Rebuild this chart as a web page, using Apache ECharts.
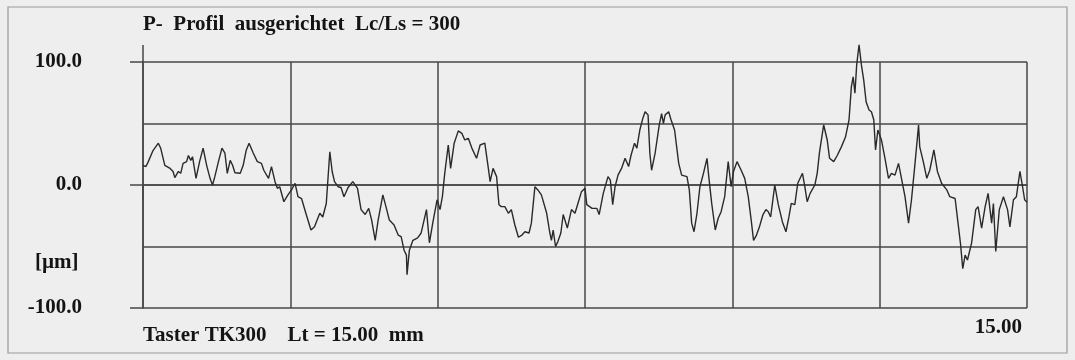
<!DOCTYPE html>
<html>
<head>
<meta charset="utf-8">
<script src="https://cdn.jsdelivr.net/npm/echarts@6/dist/echarts.min.js"></script>
<style>
  html, body { margin: 0; padding: 0; background: #eeeeee; }
  #chart { width: 1075px; height: 360px; }
</style>
</head>
<body>
<div id="chart"></div>
<script>
// Texts
const titleText = 'P-  Profil  ausgerichtet  Lc/Ls = 300';
const footerText = 'Taster TK300    Lt = 15.00  mm';
const unitText = '[µm]';

// Axis ticks
const yLabelValues = [-100, 0, 100];
const xLabelValues = [15];

// Profile: [position along trace in mm, height in µm]
const profilePoints = [
  [0.00,16],[0.05,15],[0.09,19],[0.17,28],[0.20,27],[0.26,34],[0.30,30],[0.37,16],[0.46,13.5],[0.51,11],
  [0.54,6],[0.60,11],[0.64,9.5],[0.68,17.6],[0.74,19],[0.77,24],[0.81,20],[0.84,23],[0.90,5.4],[0.96,19],
  [1.02,30],[1.08,16],[1.14,5],[1.18,0],[1.22,7],[1.28,19],[1.34,30],[1.39,26],[1.43,9.5],[1.48,20],
  [1.52,16],[1.56,10],[1.65,9.5],[1.70,16],[1.75,28],[1.80,34],[1.87,26],[1.94,19],[2.01,17.6],[2.05,12],
  [2.13,5.4],[2.18,15],[2.24,2.7],[2.28,-2.7],[2.32,-1.4],[2.39,-13.6],[2.46,-8],[2.52,-4],
  [2.58,1.4],[2.63,-9.5],[2.69,-11],[2.77,-24],[2.85,-36.6],[2.91,-34],[3.00,-23],[3.05,-26],[3.11,-15],[3.17,27],
  [3.21,11],[3.25,2.7],[3.31,-1.4],[3.36,-2],[3.41,-9.5],[3.48,-2],[3.56,2.7],[3.64,-2.7],[3.70,-20],[3.77,-24],
  [3.83,-19],[3.88,-28.5],[3.94,-45],[3.99,-28.5],[4.07,-8],[4.13,-19],[4.18,-28.5],[4.26,-32.5],[4.33,-40.7],[4.38,-42],
  [4.43,-53],[4.47,-57],[4.48,-73],[4.52,-53],[4.58,-45],[4.66,-43],[4.72,-39],[4.81,-20],[4.86,-47],[4.92,-30],[4.99,-12],
  [5.04,-20],[5.08,-9.5],[5.12,9.5],[5.18,32.5],[5.22,13.5],[5.28,34],[5.35,44],[5.41,42],[5.46,36.6],[5.52,38],
  [5.58,30],[5.66,21.7],[5.72,32.5],[5.80,34],[5.86,13.5],[5.89,2.7],[5.94,13.5],[6.00,6.8],[6.04,-16],[6.08,-17.6],
  [6.14,-17.6],[6.20,-23],[6.25,-20],[6.31,-32.5],[6.37,-42.5],[6.43,-40.7],[6.48,-38],[6.55,-39],[6.59,-31],[6.65,-1.4],
  [6.70,-4],[6.76,-8],[6.85,-23],[6.90,-38],[6.93,-45],[6.96,-36.6],[7.00,-50],[7.04,-46],[7.09,-39],[7.13,-24],
  [7.20,-35],[7.27,-20],[7.33,-23],[7.38,-15],[7.44,-5.4],[7.50,-2.7],
  [7.53,-16],[7.62,-19],[7.70,-19],[7.74,-24],[7.81,-6.8],[7.89,6.8],[7.93,4],[7.97,-16],[8.01,-1.4],[8.06,8],
  [8.12,13.5],[8.18,21.7],[8.24,15],[8.28,24],[8.34,34],[8.38,30],[8.43,44.7],[8.48,54],[8.52,59.6],[8.57,57],
  [8.60,26],[8.63,12],[8.69,26],[8.76,48.8],[8.80,58],[8.83,50],[8.86,57],[8.92,59.6],[8.96,53],[9.02,44.7],
  [9.09,17.6],[9.14,8],[9.23,6.8],[9.27,-4],[9.31,-31],[9.35,-38],[9.40,-23],[9.45,-1.4],[9.51,9.5],[9.57,21.7],
  [9.60,6.8],[9.65,-15],[9.71,-36.6],[9.76,-27],[9.81,-21.7],[9.87,-9.5],[9.93,19],[9.98,-1.4],
  [10.02,11],[10.08,19],[10.15,12],[10.21,5.4],[10.27,-9.5],[10.32,-28.5],[10.36,-45],[10.41,-40.7],[10.46,-34],[10.52,-24],
  [10.57,-20],[10.61,-21.7],[10.65,-26],[10.68,-15],[10.72,0],[10.78,-16],[10.85,-30],[10.91,-38],[10.96,-26],[11.00,-15],
  [11.06,-16],[11.11,1.4],[11.19,9.5],[11.23,-1.4],[11.27,-13.6],[11.32,-6.8],[11.40,0],[11.44,9.5],[11.48,27],[11.55,48.8],
  [11.61,36.6],[11.65,21.7],[11.72,19],[11.78,24],[11.85,31],[11.92,39],[11.98,53],[12.02,80],[12.05,88],[12.08,74.6],
  [12.11,97.6],[12.15,114],[12.19,97.6],[12.23,85],[12.27,67.7],[12.32,61],[12.36,59.6],[12.40,53],[12.43,28.5],[12.47,44.7],
  [12.50,46],[12.53,36.6],[12.59,21.7],[12.65,5.4],[12.70,9.5],[12.76,8],[12.82,17.6],[12.87,5.4],[12.93,-9.5],[12.99,-31],
  [13.04,-12],[13.10,17.6],[13.16,48.8],[13.18,31],[13.24,19],[13.30,5.4],[13.35,12],[13.42,28.5],[13.48,11],[13.55,1.4],
  [13.64,-4],[13.69,-9.5],[13.78,-11],[13.83,-31],[13.87,-47],[13.91,-68],[13.95,-57],[13.99,-61],[14.06,-47],[14.13,-20],
  [14.17,-17.6],[14.23,-35],[14.29,-17.6],[14.34,-6.8],[14.40,-31],[14.43,-15],[14.47,-54],[14.53,-20],[14.60,-9.5],[14.67,-20],
  [14.71,-34],[14.77,-12],[14.82,-9.5],[14.88,11],[14.92,0],[14.96,-12],[15.00,-14]
];

const FONT = 'Liberation Serif';
const INK = '#141414';
const GRID = '#474747';
const GRID_W = 1.5;
const FONT_SIZE = 21;

const chart = echarts.init(document.getElementById('chart'), null, { renderer: 'canvas' });

const labelFont = { fontFamily: FONT, fontWeight: 'bold', fontSize: FONT_SIZE, color: INK };

chart.setOption({
  backgroundColor: '#eeeeee',
  animation: false,
  title: {
    text: titleText,
    left: 143,
    top: 14,
    padding: 0,
    textStyle: { fontFamily: FONT, fontWeight: 'bold', fontSize: FONT_SIZE, color: INK }
  },
  grid: { left: 143, right: 48, top: 62, bottom: 52, containLabel: false },
  xAxis: [
    {
      // grid: vertical division lines every 2.5 mm
      type: 'value',
      position: 'bottom',
      min: 0,
      max: 15,
      interval: 2.5,
      axisLine: { show: true, lineStyle: { color: GRID, width: GRID_W } },
      axisTick: { show: false },
      axisLabel: { show: false },
      splitLine: { show: true, lineStyle: { color: GRID, width: GRID_W } }
    },
    {
      // end label and the downward extension of the left edge
      type: 'value',
      position: 'bottom',
      min: 0,
      max: 15,
      interval: 2.5,
      axisLine: { show: false },
      axisTick: { show: true, customValues: [0], length: 15, lineStyle: { color: GRID, width: GRID_W } },
      axisLabel: {
        show: true,
        customValues: xLabelValues,
        formatter: (v) => v.toFixed(2),
        align: 'right',
        padding: [0, 5, 0, 0],
        margin: 9,
        ...labelFont
      },
      splitLine: { show: false }
    },
    {
      // upward extension of the left edge
      type: 'value',
      position: 'top',
      min: 0,
      max: 15,
      interval: 2.5,
      axisLine: { show: false },
      axisTick: { show: true, customValues: [0], length: 17, lineStyle: { color: GRID, width: GRID_W } },
      axisLabel: { show: false },
      splitLine: { show: false }
    }
  ],
  yAxis: [
    {
      // grid: horizontal lines every 50 µm
      type: 'value',
      position: 'left',
      min: -100,
      max: 100,
      interval: 50,
      axisLine: { show: true, lineStyle: { color: GRID, width: GRID_W } },
      axisTick: { show: false },
      axisLabel: { show: false },
      splitLine: { show: true, lineStyle: { color: GRID, width: GRID_W } }
    },
    {
      // labelled levels with short outward ticks
      type: 'value',
      position: 'left',
      min: -100,
      max: 100,
      interval: 50,
      axisLine: { show: false },
      axisTick: { show: true, customValues: yLabelValues, length: 13, lineStyle: { color: GRID, width: GRID_W } },
      axisLabel: {
        show: true,
        customValues: yLabelValues,
        formatter: (v) => v.toFixed(1),
        margin: 61,
        ...labelFont
      },
      splitLine: { show: false }
    }
  ],
  graphic: [
    {
      type: 'rect',
      shape: { x: 8, y: 7, width: 1059, height: 346 },
      style: { fill: 'none', stroke: '#9a9a9a', lineWidth: 1.2 },
      silent: true
    },
    {
      type: 'text',
      left: 35,
      top: 252,
      style: { text: unitText, font: 'bold 21px "Liberation Serif"', fill: INK }
    },
    {
      type: 'text',
      left: 143,
      top: 325,
      style: { text: footerText, font: 'bold 21px "Liberation Serif"', fill: INK }
    }
  ],
  series: [
    {
      type: 'line',
      xAxisIndex: 0,
      yAxisIndex: 0,
      data: profilePoints,
      showSymbol: false,
      clip: false,
      lineStyle: { color: '#2a2a2a', width: 1.4 },
      emphasis: { disabled: true }
    }
  ]
});
</script>
</body>
</html>
